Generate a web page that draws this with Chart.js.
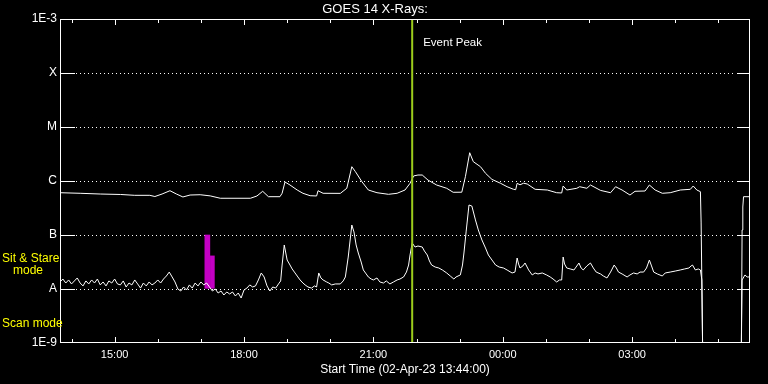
<!DOCTYPE html>
<html lang="en">
<head>
    <meta charset="UTF-8">
    <title>GOES 14 X-Rays</title>
    <script src="https://cdn.jsdelivr.net/npm/chart.js"></script>
    <style>
        body { margin: 0; background: #000; }
        canvas { display: block; }
    </style>
</head>
<body>
    <canvas id="goesChart" width="768" height="384"></canvas>
    <script>
        // time axis is minutes after the start time (13:44)
        const startLabel = 'Start Time (02-Apr-23 13:44:00)';
        const hourTicks = [16, 76, 136, 196, 256, 316, 376, 436, 496, 556, 616, 676, 736, 796, 856, 916];
        const labelTicks = [76, 256, 436, 616, 796];
        const labelTexts = ['15:00', '18:00', '21:00', '00:00', '03:00'];

        const levelValues = [1e-9, 1e-8, 1e-7, 1e-6, 1e-5, 1e-4, 1e-3];
        const levelLabels = ['1E-9', 'A', 'B', 'C', 'M', 'X', '1E-3'];

        const eventPeakTime = 490;

        // 1-8 A channel (upper curve)
        const longTimes = [0, 28, 56, 84, 104, 125, 132, 142, 153, 162, 171, 181, 195, 209, 223, 265, 274, 282, 290, 306,
            309, 313, 320, 330, 338, 348, 357, 359, 366, 390, 399, 406, 411, 420, 429, 441, 457, 469, 480, 487,
            492, 498, 504, 512, 524, 538, 547, 559, 564, 570, 575, 585, 592, 601, 613, 622, 631, 634, 636, 640,
            645, 650, 661, 678, 691, 698, 700, 705, 719, 723, 733, 738, 752, 766, 773, 782, 793, 800, 814, 820,
            828, 838, 849, 863, 877, 881, 886, 891, 892, 894, 948, 949, 950, 951, 961];
        const longFlux = [6.07e-7, 5.92e-7, 5.74e-7, 5.63e-7, 5.43e-7, 5.43e-7, 5.16e-7, 5.74e-7, 6.61e-7, 5.74e-7, 5.06e-7, 5.50e-7, 5.57e-7, 5.30e-7, 4.79e-7, 4.79e-7, 5.28e-7, 6.45e-7, 5.12e-7, 5.12e-7,
            5.92e-7, 9.58e-7, 8.43e-7, 6.81e-7, 5.92e-7, 5.34e-7, 5.28e-7, 6.61e-7, 5.92e-7, 5.90e-7, 7.33e-7, 1.84e-6, 1.49e-6, 9.70e-7, 6.81e-7, 6.07e-7, 5.67e-7, 5.92e-7, 6.81e-7, 9.06e-7,
            1.24e-6, 1.29e-6, 1.29e-6, 1.04e-6, 8.43e-7, 7.33e-7, 6.18e-7, 6.20e-7, 1.20e-6, 3.34e-6, 2.28e-6, 1.84e-6, 1.39e-6, 1.07e-6, 9.06e-7, 7.84e-7, 7.02e-7, 6.90e-7, 9.06e-7, 8.50e-7,
            9.10e-7, 8.80e-7, 7.02e-7, 6.81e-7, 6.07e-7, 6.00e-7, 8.08e-7, 6.81e-7, 7.33e-7, 7.84e-7, 7.33e-7, 8.43e-7, 6.70e-7, 6.07e-7, 7.84e-7, 6.81e-7, 5.50e-7, 6.45e-7, 6.53e-7, 8.43e-7,
            6.81e-7, 5.92e-7, 6.07e-7, 6.81e-7, 7.02e-7, 8.08e-7, 6.81e-7, 6.34e-7, 1.67e-7, 1e-9, 1e-9, 1.24e-7, 3.30e-7, 5.12e-7, 5.12e-7];

        // 0.5-4 A channel (lower curve)
        const shortTimes = [0, 4, 8, 12, 16, 20, 24, 28, 32, 36, 40, 44, 48, 52, 56, 60, 64, 68, 72, 76,
            80, 84, 88, 92, 96, 100, 104, 108, 112, 116, 120, 124, 128, 132, 136, 140, 144, 148, 152, 156,
            160, 164, 168, 172, 176, 180, 184, 188, 192, 196, 200, 204, 208, 212, 216, 220, 224, 228, 232, 236,
            240, 244, 248, 252, 256, 260, 264, 268, 272, 276, 280, 284, 288, 292, 296, 300, 304, 307,
            309, 312, 316, 320, 323, 327, 331, 334, 338, 341, 345, 350, 354, 357, 360, 363, 366, 371, 374, 378,
            383, 390, 394, 397, 401, 406, 409, 412, 415, 419, 422, 426, 429, 433, 436, 441, 445, 450, 454, 459,
            464, 469, 473, 478, 482, 485, 487, 490, 494, 498, 504, 507, 511, 514, 517, 522, 527, 532, 538, 543,
            548, 551, 557, 560, 562, 565, 569, 573, 578, 582, 587, 592, 596, 601, 606, 611, 617, 622, 629, 633,
            636, 638, 640, 644, 647, 652, 657, 661, 665, 671, 677, 682, 686, 691, 695, 698, 700, 702, 705, 710,
            715, 718, 722, 725, 728, 733, 738, 742, 746, 752, 756, 761, 766, 771, 774, 777, 782, 789, 793, 798,
            803, 807, 812, 816, 820, 823, 826, 831, 838, 842, 849, 856, 863, 869, 875, 878, 880, 884, 888, 891,
            893, 894, 948, 949, 953, 956, 961];
        const shortFlux = [1.35e-8, 1.53e-8, 1.29e-8, 1.47e-8, 1.24e-8, 1.41e-8, 1.60e-8, 1.29e-8, 1.14e-8, 1.41e-8, 1.24e-8, 1.47e-8, 1.29e-8, 1.53e-8, 1.19e-8, 1.35e-8, 1.14e-8, 1.41e-8, 1.29e-8, 1.53e-8,
            1.24e-8, 1.19e-8, 1.41e-8, 1.09e-8, 1.29e-8, 1.19e-8, 1.47e-8, 1.24e-8, 1.04e-8, 1.29e-8, 1.14e-8, 1.35e-8, 1.19e-8, 1.29e-8, 1.47e-8, 1.29e-8, 1.53e-8, 1.74e-8, 2.06e-8, 1.67e-8,
            1.35e-8, 1.00e-8, 9.18e-9, 1.09e-8, 9.58e-9, 1.19e-8, 1.04e-8, 1.29e-8, 1.14e-8, 1.35e-8, 1.19e-8, 1.29e-8, 1.09e-8, 9.18e-9, 1.00e-8, 8.43e-9, 9.18e-9, 7.74e-9, 8.80e-9, 8.08e-9,
            8.80e-9, 7.42e-9, 8.43e-9, 6.81e-9, 9.58e-9, 1.04e-8, 1.19e-8, 1.09e-8, 1.14e-8, 1.47e-8, 1.98e-8, 1.67e-8, 1.14e-8, 9.18e-9, 1.09e-8, 1.04e-8, 1.24e-8, 1.41e-8,
            2.78e-8, 6.53e-8, 3.44e-8, 2.78e-8, 2.35e-8, 1.98e-8, 1.67e-8, 1.47e-8, 1.29e-8, 1.19e-8, 1.09e-8, 1.04e-8, 1.14e-8, 1.09e-8, 1.98e-8, 1.60e-8, 1.47e-8, 1.35e-8, 1.29e-8, 1.19e-8,
            1.24e-8, 1.24e-8, 1.41e-8, 1.67e-8, 3.91e-8, 1.53e-7, 1.14e-7, 6.53e-8, 4.64e-8, 3.16e-8, 2.25e-8, 1.90e-8, 1.67e-8, 1.53e-8, 1.47e-8, 1.60e-8, 1.35e-8, 1.29e-8, 1.41e-8, 1.24e-8,
            1.35e-8, 1.47e-8, 1.53e-8, 1.67e-8, 2.06e-8, 2.78e-8, 4.26e-8, 7.11e-8, 5.99e-8, 6.25e-8, 5.99e-8, 5.05e-8, 4.26e-8, 3.30e-8, 2.78e-8, 2.55e-8, 2.45e-8, 2.25e-8, 1.98e-8, 1.74e-8,
            1.53e-8, 1.67e-8, 1.82e-8, 2.78e-8, 4.64e-8, 1.14e-7, 3.59e-7, 3.44e-7, 1.90e-7, 1.24e-7, 8.08e-8, 5.74e-8, 4.26e-8, 3.44e-8, 2.78e-8, 2.55e-8, 2.45e-8, 2.25e-8, 1.98e-8, 2.06e-8,
            3.75e-8, 2.90e-8, 2.45e-8, 2.67e-8, 3.03e-8, 2.25e-8, 1.82e-8, 1.98e-8, 1.90e-8, 1.98e-8, 1.82e-8, 1.67e-8, 1.53e-8, 1.35e-8, 1.47e-8, 1.47e-8, 3.91e-8, 2.90e-8, 2.45e-8, 2.35e-8,
            2.25e-8, 2.55e-8, 3.03e-8, 2.45e-8, 2.25e-8, 2.67e-8, 3.03e-8, 2.45e-8, 2.06e-8, 1.90e-8, 1.74e-8, 1.60e-8, 2.06e-8, 2.78e-8, 2.45e-8, 2.06e-8, 1.90e-8, 1.67e-8, 1.82e-8, 1.98e-8,
            1.90e-8, 2.06e-8, 2.06e-8, 2.45e-8, 3.44e-8, 2.67e-8, 2.06e-8, 1.90e-8, 1.74e-8, 1.98e-8, 2.06e-8, 2.15e-8, 2.25e-8, 2.35e-8, 2.45e-8, 2.67e-8, 2.78e-8, 2.25e-8, 2.35e-8, 2.25e-8,
            1.47e-8, 1e-9, 1e-9, 1.47e-8, 1.82e-8, 1.67e-8, 1.67e-8];

        // sit & stare mode markers
        const modeTimes = [205, 212];
        const modeLow = [1.03e-8, 1.03e-8];
        const modeHigh = [1e-7, 4.1e-8];

        const font = '"Liberation Sans", Arial, sans-serif';

        const goesFrame = {
            id: 'goesFrame',
            beforeDatasetsDraw(chart) {
                const { ctx, chartArea: a, scales: { y } } = chart;
                ctx.save();
                ctx.strokeStyle = '#fff';
                ctx.lineWidth = 1;
                levelValues.slice(1, -1).forEach(v => {
                    const py = Math.round(y.getPixelForValue(v)) + 0.5;
                    ctx.setLineDash([1, 3]);
                    ctx.beginPath();
                    ctx.moveTo(a.left + 16, py);
                    ctx.lineTo(a.right - 14, py);
                    ctx.stroke();
                    ctx.setLineDash([]);
                    ctx.beginPath();
                    ctx.moveTo(a.left, py); ctx.lineTo(a.left + 15, py);
                    ctx.moveTo(a.right - 13, py); ctx.lineTo(a.right, py);
                    ctx.stroke();
                });
                ctx.restore();
            },
            afterDatasetsDraw(chart) {
                const { ctx, chartArea: a, scales: { x, y } } = chart;
                ctx.save();
                // event peak marker
                const ex = x.getPixelForValue(eventPeakTime);
                ctx.strokeStyle = '#9ccc1c';
                ctx.lineWidth = 2;
                ctx.beginPath();
                ctx.moveTo(ex, a.top);
                ctx.lineTo(ex, a.bottom);
                ctx.stroke();
                ctx.fillStyle = '#fff';
                ctx.font = '11.5px ' + font;
                ctx.textBaseline = 'middle';
                ctx.fillText('Event Peak', ex + 11, a.top + 24);

                // frame and time ticks
                ctx.strokeStyle = '#fff';
                ctx.lineWidth = 1;
                ctx.strokeRect(a.left + 0.5, a.top + 0.5, a.right - a.left - 1, a.bottom - a.top - 1);
                ctx.beginPath();
                hourTicks.forEach(t => {
                    const px = Math.round(x.getPixelForValue(t)) + 0.5;
                    const len = labelTicks.includes(t) ? 6 : 4;
                    ctx.moveTo(px, a.top); ctx.lineTo(px, a.top + len);
                    ctx.moveTo(px, a.bottom); ctx.lineTo(px, a.bottom - len);
                });
                ctx.stroke();

                // mode labels on the left
                const yB = y.getPixelForValue(levelValues[2]);
                const yA = y.getPixelForValue(levelValues[1]);
                ctx.fillStyle = '#ffff00';
                ctx.textAlign = 'left';
                ctx.font = '12px ' + font;
                ctx.fillText('Sit & Stare', 2, yB + 24);
                ctx.fillText('mode', 13, yB + 36);
                ctx.fillText('Scan mode', 2, yA + 35);
                ctx.restore();
            }
        };

        const ctx = document.getElementById('goesChart').getContext('2d');
        const goesChart = new Chart(ctx, {
            type: 'line',
            data: {
                datasets: [
                    {
                        label: 'Long',
                        data: longTimes.map((t, i) => ({ x: t, y: longFlux[i] })),
                        borderColor: '#fff',
                        borderWidth: 1,
                        pointRadius: 0,
                        tension: 0,
                        order: 1
                    },
                    {
                        label: 'Short',
                        data: shortTimes.map((t, i) => ({ x: t, y: shortFlux[i] })),
                        borderColor: '#fff',
                        borderWidth: 1,
                        pointRadius: 0,
                        tension: 0,
                        order: 1
                    },
                    {
                        type: 'bar',
                        label: 'Mode 1',
                        data: [{ x: modeTimes[0], y: [modeLow[0], modeHigh[0]] }],
                        backgroundColor: '#c400c4',
                        barThickness: 5,
                        grouped: false,
                        order: 2
                    },
                    {
                        type: 'bar',
                        label: 'Mode 2',
                        data: [{ x: modeTimes[1], y: [modeLow[1], modeHigh[1]] }],
                        backgroundColor: '#c400c4',
                        barThickness: 4,
                        grouped: false,
                        order: 2
                    }
                ]
            },
            options: {
                responsive: false,
                animation: false,
                devicePixelRatio: 1,
                layout: { padding: { left: 0, right: 18, top: 0, bottom: 0 } },
                plugins: {
                    legend: { display: false },
                    tooltip: { enabled: false },
                    title: {
                        display: true,
                        text: 'GOES 14 X-Rays:',
                        color: '#fff',
                        font: { family: font, size: 13, weight: 'normal' },
                        padding: { top: 2, bottom: 1.4 }
                    }
                },
                scales: {
                    x: {
                        type: 'linear',
                        min: 0,
                        max: 960,
                        offset: false,
                        grid: { display: false, drawTicks: false },
                        border: { display: false },
                        afterBuildTicks: s => { s.ticks = labelTicks.map(v => ({ value: v })); },
                        afterFit: s => { s.height = 41; },
                        ticks: {
                            color: '#fff',
                            font: { family: font, size: 11 },
                            padding: 5,
                            maxRotation: 0,
                            autoSkip: false,
                            callback: (v, i) => labelTexts[i]
                        },
                        title: {
                            display: true,
                            text: startLabel,
                            color: '#fff',
                            font: { family: font, size: 12 },
                            padding: { top: 0, bottom: 7 }
                        }
                    },
                    y: {
                        type: 'logarithmic',
                        min: 1e-9,
                        max: 1e-3,
                        grid: { display: false, drawTicks: false },
                        border: { display: false },
                        afterBuildTicks: s => { s.ticks = levelValues.map(v => ({ value: v })); },
                        afterFit: s => { s.width = 60; },
                        ticks: {
                            color: '#fff',
                            font: { family: font, size: 12 },
                            padding: 3,
                            autoSkip: false,
                            callback: (v, i) => levelLabels[i]
                        }
                    }
                }
            },
            plugins: [goesFrame]
        });
    </script>
</body>
</html>
